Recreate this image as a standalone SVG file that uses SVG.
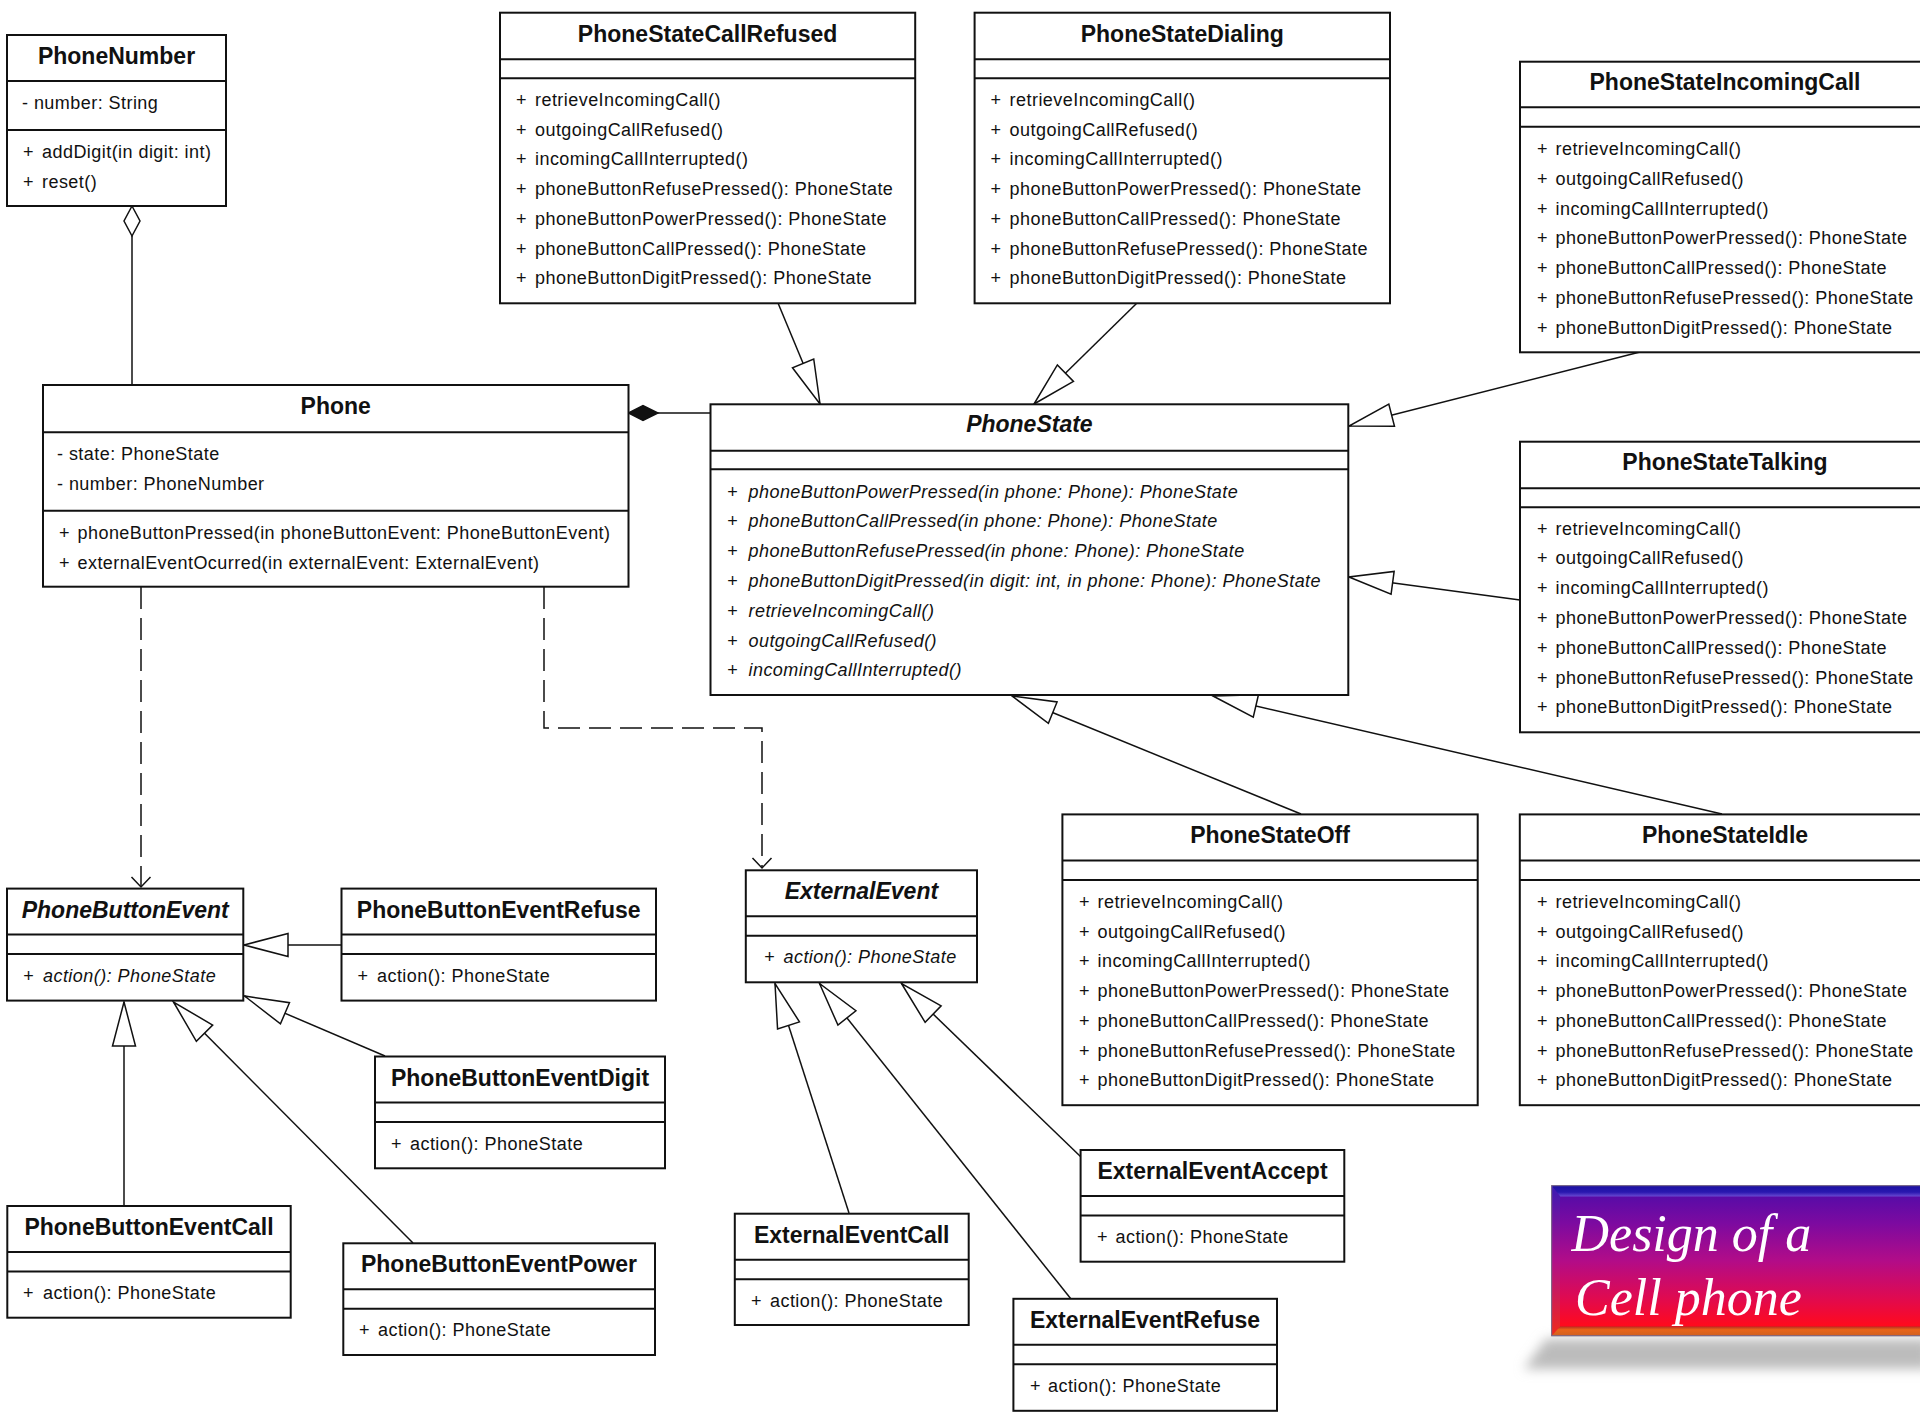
<svg xmlns="http://www.w3.org/2000/svg" width="1920" height="1412" viewBox="0 0 1920 1412">
  <defs>
    <style>
      .box { fill: #fff; stroke: #111; stroke-width: 2; }
      .sep { stroke: #111; stroke-width: 2; }
      .t { font-family: "Liberation Sans", Arial, sans-serif; font-size: 23px; font-weight: bold; text-anchor: middle; fill: #111; }
      .m { font-family: "Liberation Sans", Arial, sans-serif; font-size: 18px; letter-spacing: 0.45px; fill: #111; }
      .i { font-style: italic; }
      .ln { fill: none; stroke: #111; stroke-width: 1.5; }
      .dash { stroke-dasharray: 22 9; }
      .gen { marker-end: url(#gen); }
      .dep { marker-end: url(#dep); }
      .banner { font-family: "Liberation Serif", "Times New Roman", serif; font-size: 52px; font-style: italic; fill: #fff; }
    </style>
    <!-- hollow triangle for generalization -->
    <marker id="gen" markerUnits="userSpaceOnUse" markerWidth="52" markerHeight="30" viewBox="-48 -15 52 30" refX="0" refY="0" orient="auto">
      <path d="M0,0 L-44,-11.5 L-44,11.5 Z" fill="#fff" stroke="#111" stroke-width="1.5"/>
    </marker>
    <!-- open arrowhead for dependency -->
    <marker id="dep" markerUnits="userSpaceOnUse" markerWidth="16" markerHeight="26" viewBox="-13 -13 16 26" refX="0" refY="0" orient="auto">
      <path d="M-10,-9.5 L0,0 L-10,9.5" fill="none" stroke="#111" stroke-width="1.5"/>
    </marker>
    <linearGradient id="bannerFill" x1="0" y1="0" x2="0" y2="1">
      <stop offset="0" stop-color="#4a0caa"/>
      <stop offset="0.25" stop-color="#7c0aa0"/>
      <stop offset="0.5" stop-color="#b20c88"/>
      <stop offset="0.75" stop-color="#e00a50"/>
      <stop offset="0.93" stop-color="#ff0a1e"/>
      <stop offset="1" stop-color="#e01022"/>
    </linearGradient>
    <linearGradient id="bannerTop" x1="0" y1="0" x2="0" y2="1">
      <stop offset="0" stop-color="#1a10a0"/>
      <stop offset="0.6" stop-color="#2a18b0"/>
      <stop offset="1" stop-color="#6a4ad2"/>
    </linearGradient>
    <linearGradient id="bannerLeft" x1="0" y1="0" x2="0" y2="1">
      <stop offset="0" stop-color="#3a1ab4"/>
      <stop offset="0.5" stop-color="#b0108a"/>
      <stop offset="1" stop-color="#f02a1a"/>
    </linearGradient>
    <linearGradient id="bannerBottom" x1="0" y1="0" x2="0" y2="1">
      <stop offset="0" stop-color="#b83020"/>
      <stop offset="0.35" stop-color="#e8641a"/>
      <stop offset="1" stop-color="#d06020"/>
    </linearGradient>
    <filter id="soft" x="-10%" y="-60%" width="120%" height="220%">
      <feGaussianBlur stdDeviation="6"/>
    </filter>
  </defs>

  <rect width="1920" height="1412" fill="#fff"/>

  <!-- connectors -->
  <g id="connectors">
    <!-- PhoneNumber aggregated by Phone -->
    <line class="ln" x1="132" y1="236" x2="132" y2="385"/>
    <polygon points="132,206 140,221 132,236 124,221" fill="#fff" stroke="#111" stroke-width="1.5"/>
    <!-- Phone composed of PhoneState -->
    <line class="ln" x1="658" y1="413" x2="710.5" y2="413"/>
    <polygon points="628.5,413 643,405.5 658,413 643,420.5" fill="#111" stroke="#111" stroke-width="1.5"/>
    <!-- dependencies -->
    <path class="ln dash dep" d="M141,587 L141,887"/>
    <path class="ln dash dep" d="M544,587 L544,728 L762,728 L762,868"/>
    <!-- PhoneState specialisations -->
    <line class="ln gen" x1="778" y1="303" x2="820" y2="404"/>
    <line class="ln gen" x1="1137" y1="303" x2="1034" y2="404"/>
    <line class="ln gen" x1="1640" y1="352" x2="1349" y2="426"/>
    <line class="ln gen" x1="1520" y1="600" x2="1349" y2="577"/>
    <line class="ln gen" x1="1301" y1="814" x2="1012" y2="696"/>
    <line class="ln gen" x1="1722" y1="814" x2="1213" y2="696"/>
    <!-- PhoneButtonEvent specialisations -->
    <line class="ln gen" x1="341.5" y1="945" x2="244" y2="945"/>
    <line class="ln gen" x1="385" y1="1056" x2="244.5" y2="996"/>
    <line class="ln gen" x1="124" y1="1206" x2="124" y2="1002"/>
    <line class="ln gen" x1="413" y1="1243" x2="173.5" y2="1002"/>
    <!-- ExternalEvent specialisations -->
    <line class="ln gen" x1="849" y1="1213" x2="775" y2="983.5"/>
    <line class="ln gen" x1="1071" y1="1299" x2="819.5" y2="983.5"/>
    <line class="ln gen" x1="1081" y1="1157" x2="901.5" y2="983.5"/>
  </g>

  <!-- PhoneNumber -->
  <g id="PhoneNumber">
    <rect class="box" x="7" y="35" width="219" height="171"/>
    <line class="sep" x1="7" y1="81" x2="226" y2="81"/>
    <line class="sep" x1="7" y1="130" x2="226" y2="130"/>
    <text class="t" x="116.5" y="64">PhoneNumber</text>
    <text class="m" x="22" y="109">- number: String</text>
    <text class="m" y="158"><tspan x="23">+</tspan><tspan x="42">addDigit(in digit: int)</tspan></text>
    <text class="m" y="188"><tspan x="23">+</tspan><tspan x="42">reset()</tspan></text>
  </g>

  <!-- Phone -->
  <g id="Phone">
    <rect class="box" x="43" y="385" width="585.5" height="201.7"/>
    <line class="sep" x1="43" y1="432.3" x2="628.5" y2="432.3"/>
    <line class="sep" x1="43" y1="510.7" x2="628.5" y2="510.7"/>
    <text class="t" x="335.7" y="414">Phone</text>
    <text class="m" x="57" y="459.5">- state: PhoneState</text>
    <text class="m" x="57" y="489.5">- number: PhoneNumber</text>
    <text class="m" y="538.5"><tspan x="59">+</tspan><tspan x="77.5">phoneButtonPressed(in phoneButtonEvent: PhoneButtonEvent)</tspan></text>
    <text class="m" y="568.5"><tspan x="59">+</tspan><tspan x="77.5">externalEventOcurred(in externalEvent: ExternalEvent)</tspan></text>
  </g>

  <!-- PhoneState (abstract) -->
  <g id="PhoneState">
    <rect class="box" x="710.5" y="404.3" width="637.8" height="290.7"/>
    <line class="sep" x1="710.5" y1="450.7" x2="1348.3" y2="450.7"/>
    <line class="sep" x1="710.5" y1="469.3" x2="1348.3" y2="469.3"/>
    <text class="t i" x="1029.4" y="432">PhoneState</text>
    <text class="m i" y="497.5"><tspan x="727">+</tspan><tspan x="748.5">phoneButtonPowerPressed(in phone: Phone): PhoneState</tspan></text>
    <text class="m i" y="527.3"><tspan x="727">+</tspan><tspan x="748.5">phoneButtonCallPressed(in phone: Phone): PhoneState</tspan></text>
    <text class="m i" y="557.1"><tspan x="727">+</tspan><tspan x="748.5">phoneButtonRefusePressed(in phone: Phone): PhoneState</tspan></text>
    <text class="m i" y="586.9"><tspan x="727">+</tspan><tspan x="748.5">phoneButtonDigitPressed(in digit: int, in phone: Phone): PhoneState</tspan></text>
    <text class="m i" y="616.7"><tspan x="727">+</tspan><tspan x="748.5">retrieveIncomingCall()</tspan></text>
    <text class="m i" y="646.5"><tspan x="727">+</tspan><tspan x="748.5">outgoingCallRefused()</tspan></text>
    <text class="m i" y="676.3"><tspan x="727">+</tspan><tspan x="748.5">incomingCallInterrupted()</tspan></text>
  </g>

  <!-- PhoneStateCallRefused -->
  <g id="PhoneStateCallRefused">
    <rect class="box" x="500" y="12.7" width="415.2" height="290.6"/>
    <line class="sep" x1="500" y1="59.3" x2="915.2" y2="59.3"/>
    <line class="sep" x1="500" y1="78.3" x2="915.2" y2="78.3"/>
    <text class="t" x="707.6" y="41.5">PhoneStateCallRefused</text>
    <text class="m" y="106"><tspan x="516">+</tspan><tspan x="535">retrieveIncomingCall()</tspan></text>
    <text class="m" y="135.7"><tspan x="516">+</tspan><tspan x="535">outgoingCallRefused()</tspan></text>
    <text class="m" y="165.4"><tspan x="516">+</tspan><tspan x="535">incomingCallInterrupted()</tspan></text>
    <text class="m" y="195.1"><tspan x="516">+</tspan><tspan x="535">phoneButtonRefusePressed(): PhoneState</tspan></text>
    <text class="m" y="224.8"><tspan x="516">+</tspan><tspan x="535">phoneButtonPowerPressed(): PhoneState</tspan></text>
    <text class="m" y="254.5"><tspan x="516">+</tspan><tspan x="535">phoneButtonCallPressed(): PhoneState</tspan></text>
    <text class="m" y="284.2"><tspan x="516">+</tspan><tspan x="535">phoneButtonDigitPressed(): PhoneState</tspan></text>
  </g>

  <!-- PhoneStateDialing -->
  <g id="PhoneStateDialing">
    <rect class="box" x="974.6" y="12.7" width="415.4" height="290.6"/>
    <line class="sep" x1="974.6" y1="59.3" x2="1390" y2="59.3"/>
    <line class="sep" x1="974.6" y1="78.3" x2="1390" y2="78.3"/>
    <text class="t" x="1182.3" y="41.5">PhoneStateDialing</text>
    <text class="m" y="106"><tspan x="990.6">+</tspan><tspan x="1009.6">retrieveIncomingCall()</tspan></text>
    <text class="m" y="135.7"><tspan x="990.6">+</tspan><tspan x="1009.6">outgoingCallRefused()</tspan></text>
    <text class="m" y="165.4"><tspan x="990.6">+</tspan><tspan x="1009.6">incomingCallInterrupted()</tspan></text>
    <text class="m" y="195.1"><tspan x="990.6">+</tspan><tspan x="1009.6">phoneButtonPowerPressed(): PhoneState</tspan></text>
    <text class="m" y="224.8"><tspan x="990.6">+</tspan><tspan x="1009.6">phoneButtonCallPressed(): PhoneState</tspan></text>
    <text class="m" y="254.5"><tspan x="990.6">+</tspan><tspan x="1009.6">phoneButtonRefusePressed(): PhoneState</tspan></text>
    <text class="m" y="284.2"><tspan x="990.6">+</tspan><tspan x="1009.6">phoneButtonDigitPressed(): PhoneState</tspan></text>
  </g>

  <!-- PhoneStateIncomingCall -->
  <g id="PhoneStateIncomingCall">
    <rect class="box" x="1520" y="61.7" width="412" height="290.6"/>
    <line class="sep" x1="1520" y1="107.3" x2="1932" y2="107.3"/>
    <line class="sep" x1="1520" y1="126.7" x2="1932" y2="126.7"/>
    <text class="t" x="1725" y="90">PhoneStateIncomingCall</text>
    <text class="m" y="155"><tspan x="1537">+</tspan><tspan x="1555.5">retrieveIncomingCall()</tspan></text>
    <text class="m" y="184.8"><tspan x="1537">+</tspan><tspan x="1555.5">outgoingCallRefused()</tspan></text>
    <text class="m" y="214.6"><tspan x="1537">+</tspan><tspan x="1555.5">incomingCallInterrupted()</tspan></text>
    <text class="m" y="244.4"><tspan x="1537">+</tspan><tspan x="1555.5">phoneButtonPowerPressed(): PhoneState</tspan></text>
    <text class="m" y="274.2"><tspan x="1537">+</tspan><tspan x="1555.5">phoneButtonCallPressed(): PhoneState</tspan></text>
    <text class="m" y="304"><tspan x="1537">+</tspan><tspan x="1555.5">phoneButtonRefusePressed(): PhoneState</tspan></text>
    <text class="m" y="333.8"><tspan x="1537">+</tspan><tspan x="1555.5">phoneButtonDigitPressed(): PhoneState</tspan></text>
  </g>

  <!-- PhoneStateTalking -->
  <g id="PhoneStateTalking">
    <rect class="box" x="1520" y="441.7" width="412" height="290.6"/>
    <line class="sep" x1="1520" y1="488.3" x2="1932" y2="488.3"/>
    <line class="sep" x1="1520" y1="507.3" x2="1932" y2="507.3"/>
    <text class="t" x="1725" y="470">PhoneStateTalking</text>
    <text class="m" y="534.5"><tspan x="1537">+</tspan><tspan x="1555.5">retrieveIncomingCall()</tspan></text>
    <text class="m" y="564.3"><tspan x="1537">+</tspan><tspan x="1555.5">outgoingCallRefused()</tspan></text>
    <text class="m" y="594.1"><tspan x="1537">+</tspan><tspan x="1555.5">incomingCallInterrupted()</tspan></text>
    <text class="m" y="623.9"><tspan x="1537">+</tspan><tspan x="1555.5">phoneButtonPowerPressed(): PhoneState</tspan></text>
    <text class="m" y="653.7"><tspan x="1537">+</tspan><tspan x="1555.5">phoneButtonCallPressed(): PhoneState</tspan></text>
    <text class="m" y="683.5"><tspan x="1537">+</tspan><tspan x="1555.5">phoneButtonRefusePressed(): PhoneState</tspan></text>
    <text class="m" y="713.3"><tspan x="1537">+</tspan><tspan x="1555.5">phoneButtonDigitPressed(): PhoneState</tspan></text>
  </g>

  <!-- PhoneStateOff -->
  <g id="PhoneStateOff">
    <rect class="box" x="1062.4" y="814.4" width="415.3" height="290.8"/>
    <line class="sep" x1="1062.4" y1="860.5" x2="1477.7" y2="860.5"/>
    <line class="sep" x1="1062.4" y1="880" x2="1477.7" y2="880"/>
    <text class="t" x="1270" y="843">PhoneStateOff</text>
    <text class="m" y="908"><tspan x="1079">+</tspan><tspan x="1097.5">retrieveIncomingCall()</tspan></text>
    <text class="m" y="937.7"><tspan x="1079">+</tspan><tspan x="1097.5">outgoingCallRefused()</tspan></text>
    <text class="m" y="967.4"><tspan x="1079">+</tspan><tspan x="1097.5">incomingCallInterrupted()</tspan></text>
    <text class="m" y="997.1"><tspan x="1079">+</tspan><tspan x="1097.5">phoneButtonPowerPressed(): PhoneState</tspan></text>
    <text class="m" y="1026.8"><tspan x="1079">+</tspan><tspan x="1097.5">phoneButtonCallPressed(): PhoneState</tspan></text>
    <text class="m" y="1056.5"><tspan x="1079">+</tspan><tspan x="1097.5">phoneButtonRefusePressed(): PhoneState</tspan></text>
    <text class="m" y="1086.2"><tspan x="1079">+</tspan><tspan x="1097.5">phoneButtonDigitPressed(): PhoneState</tspan></text>
  </g>

  <!-- PhoneStateIdle -->
  <g id="PhoneStateIdle">
    <rect class="box" x="1519.8" y="814.4" width="412" height="290.8"/>
    <line class="sep" x1="1519.8" y1="860.5" x2="1932" y2="860.5"/>
    <line class="sep" x1="1519.8" y1="880" x2="1932" y2="880"/>
    <text class="t" x="1725" y="843">PhoneStateIdle</text>
    <text class="m" y="908"><tspan x="1537">+</tspan><tspan x="1555.5">retrieveIncomingCall()</tspan></text>
    <text class="m" y="937.7"><tspan x="1537">+</tspan><tspan x="1555.5">outgoingCallRefused()</tspan></text>
    <text class="m" y="967.4"><tspan x="1537">+</tspan><tspan x="1555.5">incomingCallInterrupted()</tspan></text>
    <text class="m" y="997.1"><tspan x="1537">+</tspan><tspan x="1555.5">phoneButtonPowerPressed(): PhoneState</tspan></text>
    <text class="m" y="1026.8"><tspan x="1537">+</tspan><tspan x="1555.5">phoneButtonCallPressed(): PhoneState</tspan></text>
    <text class="m" y="1056.5"><tspan x="1537">+</tspan><tspan x="1555.5">phoneButtonRefusePressed(): PhoneState</tspan></text>
    <text class="m" y="1086.2"><tspan x="1537">+</tspan><tspan x="1555.5">phoneButtonDigitPressed(): PhoneState</tspan></text>
  </g>

  <!-- PhoneButtonEvent (abstract) -->
  <g id="PhoneButtonEvent">
    <rect class="box" x="7" y="888.6" width="236.3" height="112"/>
    <line class="sep" x1="7" y1="934.6" x2="243.3" y2="934.6"/>
    <line class="sep" x1="7" y1="954.1" x2="243.3" y2="954.1"/>
    <text class="t i" x="125.2" y="917.6">PhoneButtonEvent</text>
    <text class="m i" y="981.6"><tspan x="23">+</tspan><tspan x="43">action(): PhoneState</tspan></text>
  </g>

  <g id="PhoneButtonEventRefuse">
    <rect class="box" x="341.5" y="888.6" width="314.5" height="112"/>
    <line class="sep" x1="341.5" y1="934.6" x2="656" y2="934.6"/>
    <line class="sep" x1="341.5" y1="954.1" x2="656" y2="954.1"/>
    <text class="t" x="498.7" y="917.6">PhoneButtonEventRefuse</text>
    <text class="m" y="981.6"><tspan x="357.5">+</tspan><tspan x="377">action(): PhoneState</tspan></text>
  </g>

  <g id="PhoneButtonEventDigit">
    <rect class="box" x="375" y="1056.5" width="290" height="111.8"/>
    <line class="sep" x1="375" y1="1102.5" x2="665" y2="1102.5"/>
    <line class="sep" x1="375" y1="1122" x2="665" y2="1122"/>
    <text class="t" x="520" y="1085.5">PhoneButtonEventDigit</text>
    <text class="m" y="1149.5"><tspan x="391">+</tspan><tspan x="410">action(): PhoneState</tspan></text>
  </g>

  <g id="PhoneButtonEventCall">
    <rect class="box" x="7.3" y="1206" width="283.4" height="111.7"/>
    <line class="sep" x1="7.3" y1="1252" x2="290.7" y2="1252"/>
    <line class="sep" x1="7.3" y1="1271.5" x2="290.7" y2="1271.5"/>
    <text class="t" x="149" y="1235">PhoneButtonEventCall</text>
    <text class="m" y="1299"><tspan x="23">+</tspan><tspan x="43">action(): PhoneState</tspan></text>
  </g>

  <g id="PhoneButtonEventPower">
    <rect class="box" x="343.3" y="1243.3" width="311.7" height="111.7"/>
    <line class="sep" x1="343.3" y1="1289.3" x2="655" y2="1289.3"/>
    <line class="sep" x1="343.3" y1="1308.8" x2="655" y2="1308.8"/>
    <text class="t" x="499" y="1272.3">PhoneButtonEventPower</text>
    <text class="m" y="1336.3"><tspan x="359">+</tspan><tspan x="378">action(): PhoneState</tspan></text>
  </g>

  <!-- ExternalEvent (abstract) -->
  <g id="ExternalEvent">
    <rect class="box" x="745.8" y="870.3" width="231.2" height="112"/>
    <line class="sep" x1="745.8" y1="916.3" x2="977" y2="916.3"/>
    <line class="sep" x1="745.8" y1="935.8" x2="977" y2="935.8"/>
    <text class="t i" x="861.4" y="899.3">ExternalEvent</text>
    <text class="m i" y="963.3"><tspan x="764">+</tspan><tspan x="783.5">action(): PhoneState</tspan></text>
  </g>

  <g id="ExternalEventCall">
    <rect class="box" x="734.8" y="1213.7" width="233.9" height="111.3"/>
    <line class="sep" x1="734.8" y1="1259.7" x2="968.7" y2="1259.7"/>
    <line class="sep" x1="734.8" y1="1279.2" x2="968.7" y2="1279.2"/>
    <text class="t" x="851.7" y="1242.7">ExternalEventCall</text>
    <text class="m" y="1306.7"><tspan x="751">+</tspan><tspan x="770">action(): PhoneState</tspan></text>
  </g>

  <g id="ExternalEventAccept">
    <rect class="box" x="1080.6" y="1150" width="263.7" height="111.7"/>
    <line class="sep" x1="1080.6" y1="1196" x2="1344.3" y2="1196"/>
    <line class="sep" x1="1080.6" y1="1215.5" x2="1344.3" y2="1215.5"/>
    <text class="t" x="1212.5" y="1179">ExternalEventAccept</text>
    <text class="m" y="1243"><tspan x="1097">+</tspan><tspan x="1115.5">action(): PhoneState</tspan></text>
  </g>

  <g id="ExternalEventRefuse">
    <rect class="box" x="1013.4" y="1298.8" width="263.6" height="112"/>
    <line class="sep" x1="1013.4" y1="1344.8" x2="1277" y2="1344.8"/>
    <line class="sep" x1="1013.4" y1="1364.3" x2="1277" y2="1364.3"/>
    <text class="t" x="1145" y="1327.8">ExternalEventRefuse</text>
    <text class="m" y="1391.8"><tspan x="1030">+</tspan><tspan x="1048">action(): PhoneState</tspan></text>
  </g>

  <!-- title banner with bevel and drop shadow -->
  <g id="banner">
    <polygon points="1546,1339 1930,1339 1930,1369 1524,1369" fill="#bcbcbc" filter="url(#soft)"/>
    <rect x="1551.7" y="1185.7" width="380" height="150" fill="url(#bannerFill)" stroke="#7a6a88" stroke-width="1"/>
    <polygon points="1551.7,1185.7 1932,1185.7 1932,1196.5 1560,1196.5" fill="url(#bannerTop)"/>
    <polygon points="1551.7,1185.7 1560,1196.5 1560,1326.5 1551.7,1335.7" fill="url(#bannerLeft)"/>
    <polygon points="1551.7,1335.7 1560,1326.5 1932,1326.5 1932,1335.7" fill="url(#bannerBottom)"/>
    <rect x="1551.7" y="1185.7" width="380" height="150" fill="none" stroke="#7a6a88" stroke-width="1"/>
    <text class="banner" x="1571.5" y="1251">Design of a</text>
    <text class="banner" x="1575" y="1315">Cell phone</text>
  </g>
</svg>
